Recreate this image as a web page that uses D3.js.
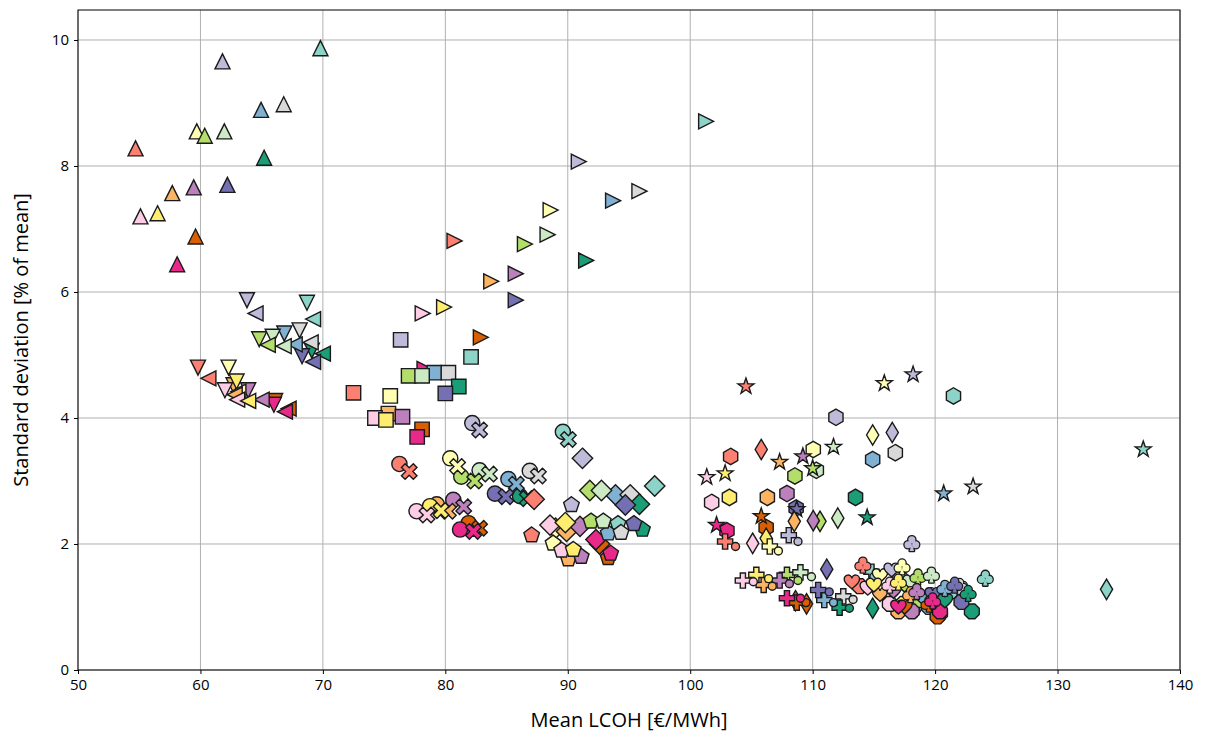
<!DOCTYPE html>
<html><head><meta charset="utf-8">
<script src="https://cdn.jsdelivr.net/npm/d3@7"></script>
<style>body{margin:0;background:#fff}svg{display:block}</style>
</head><body>
<svg id="chart" width="1206" height="736"></svg>
<script>
// 16 configurations, one colour each (Set3 + first four of Dark2)
const palette = ["#8dd3c7","#ffffb3","#bebada","#fb8072","#80b1d3","#fdb462","#b3de69","#fccde5",
                 "#d9d9d9","#bc80bd","#ccebc5","#ffed6f","#1b9e77","#d95f02","#7570b3","#e7298a"];

const xTicks = [50,60,70,80,90,100,110,120,130,140];
const yTicks = [0,2,4,6,8,10];

// Mean LCOH [€/MWh] and standard deviation [% of mean], one value per colour, per scenario marker
const triUpLcoh   = [69.8,59.7,61.8,54.7,64.95,57.7,60.35,55.1,66.8,59.45,61.95,56.5,65.2,59.6,62.2,58.1];
const triUpStd    = [9.87,8.55,9.66,8.28,8.89,7.57,8.48,7.2,8.98,7.66,8.55,7.25,8.13,6.88,7.70,6.44];
const triDownLcoh = [68.7,62.3,63.8,59.8,66.85,62.7,64.8,62.0,68.1,63.9,65.9,62.95,69.1,66.1,68.3,66.0];
const triDownStd  = [5.83,4.80,5.87,4.80,5.34,4.52,5.25,4.44,5.39,4.44,5.29,4.58,5.07,4.27,4.98,4.21];
const triLeftLcoh = [69.2,63.1,64.5,60.65,67.7,62.8,65.5,63.0,69.0,65.0,66.8,63.9,70.0,67.2,69.2,66.9];
const triLeftStd  = [5.57,4.42,5.66,4.63,5.17,4.37,5.16,4.29,5.2,4.29,5.14,4.27,5.02,4.15,4.89,4.10];
const triRightLcoh= [101.3,88.6,90.9,80.75,93.7,83.75,86.5,78.15,95.85,85.75,88.35,79.9,91.5,82.9,85.75,78.3];
const triRightStd = [8.71,7.30,8.07,6.81,7.45,6.17,6.76,5.66,7.6,6.29,6.91,5.76,6.50,5.28,5.87,4.78];
const squareLcoh  = [82.1,75.5,76.35,72.5,79.1,75.35,77.0,74.25,80.25,76.5,78.1,75.15,81.1,78.1,80.0,77.7];
const squareStd   = [4.97,4.35,5.24,4.40,4.72,4.07,4.67,4.0,4.72,4.02,4.67,3.97,4.50,3.82,4.39,3.70];
const circleLcoh  = [89.6,80.4,82.2,76.25,85.15,79.3,81.3,77.65,86.9,80.65,82.8,78.75,86.1,81.9,84.05,81.2];
const circleStd   = [3.78,3.36,3.92,3.27,3.03,2.63,3.07,2.52,3.16,2.70,3.17,2.60,2.76,2.33,2.80,2.23];
const crossLcoh   = [90.05,81.0,82.8,77.05,85.8,80.25,82.4,78.5,87.6,81.5,83.6,79.65,86.7,82.8,84.95,82.3];
const crossStd    = [3.66,3.23,3.81,3.15,2.95,2.52,3.0,2.46,3.08,2.59,3.11,2.53,2.72,2.25,2.75,2.20];
const diamondLcoh = [97.1,89.0,91.2,87.25,93.9,89.9,91.8,88.55,95.1,91.0,92.75,89.8,95.85,92.6,94.7,92.3];
const diamondStd  = [2.92,2.25,3.36,2.71,2.78,2.2,2.85,2.30,2.78,2.28,2.85,2.34,2.63,2.0,2.62,2.07];
const pentaLcoh   = [94.1,88.8,90.3,87.05,93.3,90.05,91.9,89.5,94.35,91.1,92.9,90.45,96.1,93.3,95.4,93.5];
const pentaStd    = [2.32,2.01,2.62,2.14,2.17,1.76,2.36,1.90,2.18,1.80,2.36,1.91,2.23,1.78,2.32,1.85];
const hexLcoh     = [121.5,110.05,111.9,103.3,114.9,106.3,108.55,101.75,116.75,107.9,110.3,103.2,113.5,106.2,108.65,103.0];
const hexStd      = [4.35,3.50,4.01,3.39,3.34,2.74,3.08,2.66,3.45,2.80,3.17,2.74,2.74,2.26,2.57,2.21];
const starLcoh    = [137.0,115.85,118.2,104.55,120.7,107.3,110.0,101.35,123.1,109.2,111.7,102.85,114.45,105.8,108.7,102.15];
const starStd     = [3.50,4.55,4.69,4.50,2.80,3.30,3.2,3.06,2.91,3.39,3.54,3.12,2.42,2.44,2.55,2.30];
const thinDiaLcoh = [134.0,114.9,116.5,105.8,118.5,108.5,110.6,105.1,120.0,110.05,112.05,106.2,114.9,109.5,111.15,108.6];
const thinDiaStd  = [1.28,3.73,3.77,3.50,1.0,2.36,2.36,2.01,0.95,2.37,2.41,2.09,0.98,1.05,1.60,1.1];
const plusLcoh    = [114.8,106.5,108.05,102.85,110.95,106.0,107.9,104.3,112.5,107.3,109.0,105.4,112.2,108.7,110.45,107.9];
const plusStd     = [1.56,1.96,2.14,2.04,1.11,1.35,1.51,1.42,1.17,1.42,1.55,1.51,0.99,1.07,1.27,1.14];
const pointLcoh   = [115.0,107.2,108.8,103.7,111.7,106.7,108.8,105.15,113.3,108.1,109.9,106.4,113.0,109.45,111.35,109.0];
const pointStd    = [1.48,1.89,2.04,1.96,1.07,1.33,1.42,1.40,1.12,1.37,1.48,1.45,0.98,1.07,1.24,1.14];
const clubLcoh    = [124.1,117.3,118.1,114.1,120.8,118.0,118.6,116.3,122.0,118.5,119.7,117.0,122.7,119.5,121.6,119.8];
const clubStd     = [1.46,1.64,2.01,1.67,1.30,1.2,1.48,1.35,1.33,1.25,1.51,1.4,1.22,1.05,1.35,1.1];
const heartLcoh   = [122.0,115.5,116.45,113.2,119.0,115.5,117.5,114.5,120.0,116.6,118.0,115.0,120.8,117.5,119.8,117.0];
const heartStd    = [1.3,1.5,1.59,1.40,1.15,1.2,1.35,1.3,1.2,1.25,1.4,1.35,1.1,1.0,1.2,1.0];
const octaLcoh    = [121.3,115.8,117.15,113.85,119.5,117.0,118.75,116.3,120.4,118.1,119.7,117.4,123.0,120.2,122.15,120.4];
const octaStd     = [1.25,1.24,1.46,1.33,1.0,0.93,1.11,1.05,0.9,0.93,1.13,1.05,0.93,0.85,1.08,0.93];

// drawing order: one marker shape at a time, colours in palette order
const series = [
  {shape:"triUp",    lcoh:triUpLcoh,    std:triUpStd},
  {shape:"triDown",  lcoh:triDownLcoh,  std:triDownStd},
  {shape:"triLeft",  lcoh:triLeftLcoh,  std:triLeftStd},
  {shape:"triRight", lcoh:triRightLcoh, std:triRightStd},
  {shape:"square",   lcoh:squareLcoh,   std:squareStd},
  {shape:"circle",   lcoh:circleLcoh,   std:circleStd},
  {shape:"cross",    lcoh:crossLcoh,    std:crossStd},
  {shape:"diamond",  lcoh:diamondLcoh,  std:diamondStd},
  {shape:"penta",    lcoh:pentaLcoh,    std:pentaStd},
  {shape:"hex",      lcoh:hexLcoh,      std:hexStd},
  {shape:"star",     lcoh:starLcoh,     std:starStd},
  {shape:"thinDia",  lcoh:thinDiaLcoh,  std:thinDiaStd},
  {shape:"plus",     lcoh:plusLcoh,     std:plusStd},
  {shape:"point",    lcoh:pointLcoh,    std:pointStd},
  {shape:"octa",     lcoh:octaLcoh,     std:octaStd},
  {shape:"heart",    lcoh:heartLcoh,    std:heartStd},
  {shape:"club",     lcoh:clubLcoh,     std:clubStd}
];

const svg = d3.select("#chart");
const W = 1206, H = 736;
const m = {left:78, right:26, top:10, bottom:66};
const x = d3.scaleLinear().domain([50,140]).range([m.left, W - m.right]);
const y = d3.scaleLinear().domain([0,10.476]).range([H - m.bottom, m.top]);

// grid
const grid = svg.append("g");
grid.selectAll(".gx").data(xTicks).join("line")
  .attr("x1", d => x(d)).attr("x2", d => x(d))
  .attr("y1", y.range()[0]).attr("y2", y.range()[1])
  .attr("stroke", "#b0b0b0").attr("stroke-width", 1);
grid.selectAll(".gy").data(yTicks).join("line")
  .attr("y1", d => y(d)).attr("y2", d => y(d))
  .attr("x1", x.range()[0]).attr("x2", x.range()[1])
  .attr("stroke", "#b0b0b0").attr("stroke-width", 1);

// marker geometry
const poly = pts => "M" + pts.map(p => p[0].toFixed(2) + "," + p[1].toFixed(2)).join("L") + "Z";
const regular = (n, r, rot) => d3.range(n).map(i => {
  const a = rot + i * 2 * Math.PI / n;
  return [r * Math.sin(a), -r * Math.cos(a)];
});
const circlePath = r => `M${-r},0A${r},${r} 0 1,0 ${r},0A${r},${r} 0 1,0 ${-r},0Z`;
function plusPts(e, w) {
  return [[-w,-e],[w,-e],[w,-w],[e,-w],[e,w],[w,w],[w,e],[-w,e],[-w,w],[-e,w],[-e,-w],[-w,-w]];
}
const rotate = (pts, a) => pts.map(([px,py]) => [px*Math.cos(a)-py*Math.sin(a), px*Math.sin(a)+py*Math.cos(a)]);
const h = 7.5;
const paths = {
  triUp:    poly([[0,-h],[-h,h],[h,h]]),
  triDown:  poly([[0,h],[-h,-h],[h,-h]]),
  triLeft:  poly([[-h,0],[h,-h],[h,h]]),
  triRight: poly([[h,0],[-h,-h],[-h,h]]),
  square:   poly([[-7.2,-7.2],[7.2,-7.2],[7.2,7.2],[-7.2,7.2]]),
  circle:   circlePath(7.6),
  cross:    poly(rotate(plusPts(8.4, 2.6), Math.PI/4)),
  diamond:  poly([[0,-10.2],[10.2,0],[0,10.2],[-10.2,0]]),
  penta:    poly(regular(5, 8.2, 0)),
  hex:      poly(regular(6, 8.2, 0)),
  star:     poly(d3.range(10).map(i => {
              const r = i % 2 ? 3.3 : 8.4, a = i * Math.PI / 5;
              return [r*Math.sin(a), -r*Math.cos(a)];
            })),
  thinDia:  poly([[0,-10.2],[6.1,0],[0,10.2],[-6.1,0]]),
  plus:     poly(plusPts(7.6, 2.6)),
  point:    circlePath(4),
  octa:     poly(regular(8, 8.0, Math.PI/8)),
  heart:    "M0,7C-2,5 -7.6,1.6 -7.6,-2.4A3.8,3.8 0 0,1 0,-3.4A3.8,3.8 0 0,1 7.6,-2.4C7.6,1.6 2,5 0,7Z"
};
// club = three lobes plus a stem, outlined as one silhouette
const clubLobes = [[0,-3.6],[-3.8,1.4],[3.8,1.4]];
const clubStem = poly([[0,0],[2.2,7.6],[-2.2,7.6]]);

const marks = svg.append("g");
series.forEach(s => {
  s.lcoh.forEach((v, i) => {
    const g = marks.append("g").attr("transform", `translate(${x(v)},${y(s.std[i])})`);
    if (s.shape === "club") {
      const parts = clubLobes.map(([cx,cy]) => ({t:`translate(${cx},${cy})`, d:circlePath(3.5)}))
                     .concat([{t:"", d:clubStem}]);
      parts.forEach(p => g.append("path").attr("d", p.d).attr("transform", p.t)
        .attr("fill", "#1a1a1a").attr("stroke", "#1a1a1a").attr("stroke-width", 2.6).attr("stroke-linejoin","round"));
      parts.forEach(p => g.append("path").attr("d", p.d).attr("transform", p.t)
        .attr("fill", palette[i]));
    } else {
      g.append("path").attr("d", paths[s.shape])
        .attr("fill", palette[i])
        .attr("stroke", "#1a1a1a").attr("stroke-width", 1.4).attr("stroke-linejoin", "miter");
    }
  });
});

// frame
svg.append("rect").attr("x", m.left).attr("y", m.top)
  .attr("width", W - m.left - m.right).attr("height", H - m.top - m.bottom)
  .attr("fill", "none").attr("stroke", "#000").attr("stroke-width", 1);

// axes
const xAxis = svg.append("g").attr("transform", `translate(0,${H - m.bottom})`)
  .call(d3.axisBottom(x).tickValues(xTicks).tickSize(4).tickPadding(5));
const yAxis = svg.append("g").attr("transform", `translate(${m.left},0)`)
  .call(d3.axisLeft(y).tickValues(yTicks).tickSize(4).tickPadding(5));
[xAxis, yAxis].forEach(a => {
  a.select(".domain").remove();
  a.selectAll("text").attr("font-family", "'Open Sans', sans-serif").attr("font-size", 15).attr("fill", "#000");
  a.selectAll("line").attr("stroke", "#000");
});

svg.append("text").attr("x", (m.left + W - m.right) / 2).attr("y", 727)
  .attr("text-anchor", "middle").attr("font-family", "'Open Sans', sans-serif").attr("font-size", 20)
  .text("Mean LCOH [€/MWh]");
svg.append("text").attr("transform", `translate(28,${(m.top + H - m.bottom) / 2}) rotate(-90)`)
  .attr("text-anchor", "middle").attr("font-family", "'Open Sans', sans-serif").attr("font-size", 20)
  .text("Standard deviation [% of mean]");
</script>
</body></html>
